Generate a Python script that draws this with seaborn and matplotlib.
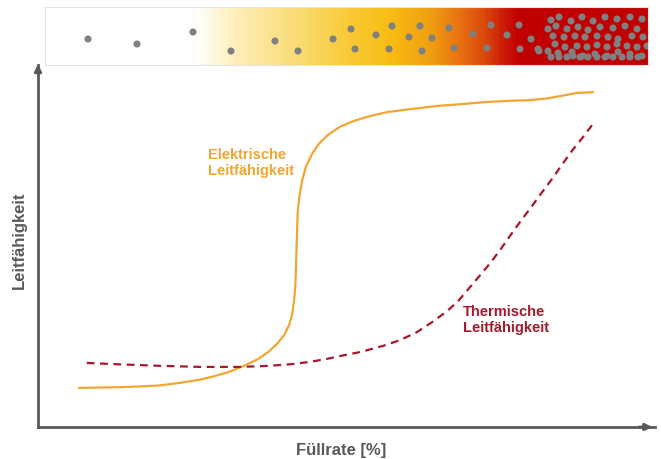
from matplotlib import pyplot as plt
from matplotlib.colors import LinearSegmentedColormap
import pandas as pd
import seaborn as sns
import numpy as np

# Kurven (Fuellrate in %, Leitfaehigkeit relativ 0-100)
el_x = [6.6, 10.0, 13.3, 16.5, 19.8, 23.0, 26.3, 28.7, 31.1, 33.5, 35.7, 37.3,
        38.7, 39.9, 40.7, 41.2, 41.5, 41.7, 41.8, 41.9, 42.0, 42.1, 42.4, 42.8,
        43.4, 44.4, 45.5, 47.0, 48.9, 51.1, 53.8, 56.6, 60.3, 64.7, 68.7, 72.8,
        76.5, 79.7, 82.2, 84.6, 87.4, 90.0]
el_y = [10.8, 10.9, 11.0, 11.2, 11.5, 12.2, 13.1, 14.1, 15.3, 17.0, 18.8, 20.7,
        22.9, 25.4, 28.2, 31.2, 34.8, 38.7, 43.6, 49.2, 54.7, 59.7, 64.1, 68.0,
        71.8, 75.4, 78.2, 80.7, 82.9, 84.5, 85.9, 87.0, 87.8, 88.7, 89.2, 89.8,
        90.1, 90.3, 90.7, 91.4, 92.3, 92.5]
th_x = [7.9, 13.3, 19.8, 26.3, 32.7, 37.6, 41.3, 44.1, 46.8, 49.8, 52.2, 55.9,
        58.7, 61.4, 63.9, 66.3, 68.1, 69.5, 71.3, 73.3, 74.9, 76.5, 78.1, 79.7,
        81.5, 83.3, 84.9, 86.5, 88.2, 89.8]
th_y = [17.7, 17.3, 16.9, 16.6, 16.6, 16.9, 17.4, 18.0, 18.8, 19.9, 20.7, 22.4,
        24.0, 26.2, 29.0, 32.0, 34.8, 37.6, 41.2, 45.3, 48.9, 52.8, 56.6, 60.2,
        64.4, 68.5, 72.4, 76.2, 79.8, 83.4]

# Partikel im Balken oben (Position im Balken)
dots_x = [88, 137, 193, 231, 275, 298, 333, 351, 355, 376, 392, 389, 409, 420,
          422, 432, 449, 454, 473, 487, 491, 507, 519, 520, 531, 539,
          551, 559, 571, 582, 593, 605, 617, 630, 642,
          548, 556, 567, 578, 588, 600, 613, 625, 637,
          553, 564, 575, 585, 597, 608, 618, 632, 643,
          538, 555, 565, 577, 587, 597, 607, 617, 627, 637, 647,
          548, 558, 572, 583, 595, 607, 618, 630, 642,
          551, 559, 567, 573, 580, 588, 597, 605, 613, 622, 630, 638]
dots_y = [40, 45, 33, 52, 42, 52, 40, 30, 50, 36, 27, 50, 38, 27,
          52, 39, 29, 49, 35, 49, 26, 36, 26, 50, 40, 52,
          21, 18, 22, 18, 22, 18, 20, 18, 20,
          30, 27, 30, 28, 31, 28, 29, 27, 30,
          37, 38, 37, 38, 37, 38, 40, 37, 38,
          50, 45, 48, 47, 48, 46, 48, 45, 47, 48, 47,
          52, 54, 53, 57, 55, 57, 53, 55, 57,
          58, 58, 58, 57, 58, 58, 58, 58, 58, 58, 58, 58]

label_el = "Elektrische\nLeitfähigkeit"
label_th = "Thermische\nLeitfähigkeit"
xlabel = "Füllrate [%]"
ylabel = "Leitfähigkeit"

c_el = "#F2A531"
c_th = "#A8182A"
c_axis = "#595959"
c_dot = "#808080"

sns.set_style("white")
plt.rcParams['font.family'] = ['Liberation Sans', 'DejaVu Sans']

W, H = 661, 460
fig = plt.figure(figsize=(W / 100, H / 100), dpi=100)

# Hauptdiagramm
ax = fig.add_axes([38 / W, 32 / H, 617 / W, 362 / H])
df_el = pd.DataFrame({"x": el_x, "y": el_y})
df_th = pd.DataFrame({"x": th_x, "y": th_y})
sns.lineplot(data=df_el, x="x", y="y", ax=ax, color=c_el, linewidth=1.6,
             sort=False, estimator=None)
sns.lineplot(data=df_th, x="x", y="y", ax=ax, color=c_th, linewidth=1.6,
             sort=False, estimator=None)
ax.lines[-1].set_dashes((3.5, 2.5))
ax.set_xlim(0, 100)
ax.set_ylim(0, 100)
ax.set_xticks([])
ax.set_yticks([])
ax.set_xlabel("")
ax.set_ylabel("")
sns.despine(ax=ax)
for s in ["left", "bottom"]:
    ax.spines[s].set_color(c_axis)
    ax.spines[s].set_linewidth(2)
# Pfeilspitzen
ax.annotate("", xy=(0, 1.01), xytext=(0, 0.97), xycoords="axes fraction",
            arrowprops=dict(arrowstyle="-|>", color=c_axis, lw=2, mutation_scale=10))
ax.annotate("", xy=(1.0, 0), xytext=(0.97, 0), xycoords="axes fraction",
            arrowprops=dict(arrowstyle="-|>", color=c_axis, lw=2, mutation_scale=10))

ax.text(27.6, 73.2, label_el, color=c_el, fontsize=10.5, fontweight="bold",
        ha="left", va="center", linespacing=1.2)
ax.text(68.9, 29.8, label_th, color=c_th, fontsize=10.5, fontweight="bold",
        ha="left", va="center", linespacing=1.2)

fig.text(341 / W, 1 - 451 / H, xlabel, color=c_axis, fontsize=12, fontweight="bold",
         ha="center", va="center")
fig.text(19 / W, 1 - 240 / H, ylabel, color=c_axis, fontsize=12, fontweight="bold",
         ha="center", va="center", rotation=90)

# Balken mit Farbverlauf oben
bx = fig.add_axes([45 / W, (H - 66) / H, 603 / W, 58 / H])
cmap = LinearSegmentedColormap.from_list("fill", [
    (0.0, "#FFFFFF"), (0.249, "#FFFFFF"), (0.307, "#FEF0C0"), (0.423, "#FADB70"),
    (0.506, "#F9CA35"), (0.572, "#F8BC14"), (0.638, "#F0A010"), (0.688, "#E87212"),
    (0.730, "#DA4A0C"), (0.763, "#CB1A06"), (0.788, "#C00000"), (1.0, "#C00000")])
grad = np.linspace(0, 1, 600).reshape(1, -1)
bx.imshow(grad, cmap=cmap, aspect="auto", extent=(45, 648, 66, 8))
sns.scatterplot(x=dots_x, y=dots_y, ax=bx, color=c_dot, s=26, edgecolor="none",
                zorder=3)
bx.set_xlim(45, 648)
bx.set_ylim(66, 8)
bx.set_xticks([])
bx.set_yticks([])
for s in bx.spines.values():
    s.set_color("#E3E3E3")
    s.set_linewidth(0.8)

fig.savefig("out.png", dpi=100)
